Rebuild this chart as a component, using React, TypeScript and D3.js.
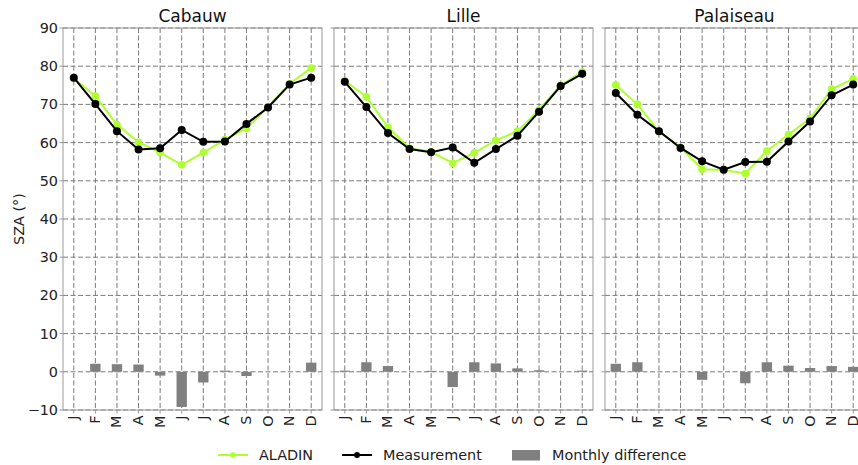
import React from "react";
import * as d3 from "d3";

const months = ["J", "F", "M", "A", "M", "J", "J", "A", "S", "O", "N", "D"];
const stations = ["Cabauw", "Lille", "Palaiseau"];
const yTicks = [-10, 0, 10, 20, 30, 40, 50, 60, 70, 80, 90];

const cabauwAladin = [76.8, 72.2, 64.7, 60.1, 57.4, 54.2, 57.4, 60.8, 63.7, 69.4, 75.4, 79.5];
const cabauwMeas = [77.0, 70.1, 63.0, 58.2, 58.5, 63.3, 60.2, 60.3, 64.9, 69.2, 75.2, 77.0];
const cabauwDiff = [0, 2.1, 2.0, 1.9, -1.0, -9.2, -2.8, 0.3, -1.1, 0, 0, 2.4];

const lilleAladin = [76.2, 72.0, 64.0, 58.5, 57.6, 54.6, 57.3, 60.6, 63.0, 68.6, 75.0, 78.5];
const lilleMeas = [75.9, 69.3, 62.5, 58.3, 57.5, 58.7, 54.7, 58.3, 61.8, 68.1, 74.8, 78.0];
const lilleDiff = [0.3, 2.5, 1.5, 0, 0.25, -4.0, 2.5, 2.2, 0.9, 0.4, 0, 0.3];

const palAladin = [75.1, 70.0, 62.9, 58.8, 53.0, 52.8, 51.9, 57.8, 62.1, 66.3, 74.0, 76.7];
const palMeas = [73.0, 67.3, 63.0, 58.6, 55.1, 52.9, 54.9, 55.0, 60.3, 65.5, 72.4, 75.2];
const palDiff = [2.1, 2.5, 0, 0, -2.1, 0, -3.0, 2.5, 1.6, 1.0, 1.5, 1.3];

const aladinSeries = [cabauwAladin, lilleAladin, palAladin];
const measSeries = [cabauwMeas, lilleMeas, palMeas];
const diffSeries = [cabauwDiff, lilleDiff, palDiff];

const W = 858;
const H = 465;
const panelLefts = [63, 334, 605];
const panelW = 259;
const top = 28;
const bottom = 410;
const GREEN = "#adff2f";
const GRID = "#7a7a7a";
const SPINE = "#999999";
const FONT = "DejaVu Sans, sans-serif";
const FS = 14.4;

const y = d3.scaleLinear().domain([-10, 90]).range([bottom, top]);

function Panel({ idx }: { idx: number }) {
  const left = panelLefts[idx];
  const x = d3.scaleLinear().domain([-0.5, 11.5]).range([left, left + panelW]);
  const barW = (x(1) - x(0)) * 0.48;
  const line = d3
    .line<number>()
    .x((_, i) => x(i))
    .y((d) => y(d));
  const aladin = aladinSeries[idx];
  const meas = measSeries[idx];
  const diff = diffSeries[idx];
  return (
    <g>
      {yTicks.map((t) => (
        <line key={"gy" + t} x1={left} x2={left + panelW} y1={y(t)} y2={y(t)} stroke={GRID} strokeWidth={1} strokeDasharray="5,2.5" />
      ))}
      {months.map((m, i) => (
        <line key={"gx" + i} x1={x(i)} x2={x(i)} y1={top} y2={bottom} stroke={GRID} strokeWidth={1} strokeDasharray="5,2.5" />
      ))}
      {diff.map((d, i) => (
        <rect
          key={"b" + i}
          x={x(i) - barW / 2}
          width={barW}
          y={Math.min(y(d), y(0))}
          height={Math.abs(y(d) - y(0))}
          fill="#808080"
        />
      ))}
      <path d={line(aladin) || ""} fill="none" stroke={GREEN} strokeWidth={2} />
      {aladin.map((d, i) => (
        <circle key={"ga" + i} cx={x(i)} cy={y(d)} r={3.8} fill={GREEN} />
      ))}
      <path d={line(meas) || ""} fill="none" stroke="#000" strokeWidth={2} />
      {meas.map((d, i) => (
        <circle key={"gm" + i} cx={x(i)} cy={y(d)} r={4} fill="#000" />
      ))}
      <rect x={left} y={top} width={panelW} height={bottom - top} fill="none" stroke={SPINE} strokeWidth={1} />
      {yTicks.map((t) => (
        <line key={"ty" + t} x1={left - 3.5} x2={left} y1={y(t)} y2={y(t)} stroke={SPINE} strokeWidth={1} />
      ))}
      {months.map((m, i) => (
        <line key={"tx" + i} x1={x(i)} x2={x(i)} y1={bottom} y2={bottom + 3.5} stroke={SPINE} strokeWidth={1} />
      ))}
      {idx === 0 &&
        yTicks.map((t) => (
          <text key={"ly" + t} x={left - 5} y={y(t)} textAnchor="end" dominantBaseline="central" fontSize={FS} fontFamily={FONT} fill="#222">
            {t < 0 ? "\u2212" + Math.abs(t) : String(t)}
          </text>
        ))}
      {months.map((m, i) => (
        <text
          key={"lx" + i}
          transform={`translate(${x(i) - 0.5},${bottom + 5.5}) rotate(-90)`}
          textAnchor="end"
          dominantBaseline="central"
          fontSize={FS}
          fontFamily={FONT}
          fill="#222"
        >
          {m}
        </text>
      ))}
      <text x={left + panelW / 2} y={top - 6} textAnchor="middle" fontSize={17} fontFamily={FONT} fill="#111">
        {stations[idx]}
      </text>
    </g>
  );
}

export default function App() {
  return (
    <svg width={W} height={H} style={{ position: "absolute", left: 0, top: 0, background: "#fff" }}>
      <rect x={0} y={0} width={W} height={H} fill="#fff" />
      {stations.map((s, i) => (
        <Panel key={s} idx={i} />
      ))}
      <text transform={`translate(19,${(top + bottom) / 2}) rotate(-90)`} textAnchor="middle" dominantBaseline="central" fontSize={FS} fontFamily={FONT} fill="#222">
        SZA (°)
      </text>
      <g>
        <line x1={218} x2={248} y1={455} y2={455} stroke={GREEN} strokeWidth={2} />
        <circle cx={233} cy={455} r={2.8} fill={GREEN} />
        <text x={259} y={455} dominantBaseline="central" fontSize={FS} fontFamily={FONT} fill="#222">ALADIN</text>
        <line x1={342} x2={372} y1={455} y2={455} stroke="#000" strokeWidth={2} />
        <circle cx={357} cy={455} r={3} fill="#000" />
        <text x={383} y={455} dominantBaseline="central" fontSize={FS} fontFamily={FONT} fill="#222">Measurement</text>
        <rect x={512} y={450} width={28} height={10.5} fill="#808080" />
        <text x={552} y={455} dominantBaseline="central" fontSize={FS} fontFamily={FONT} fill="#222">Monthly difference</text>
      </g>
    </svg>
  );
}
